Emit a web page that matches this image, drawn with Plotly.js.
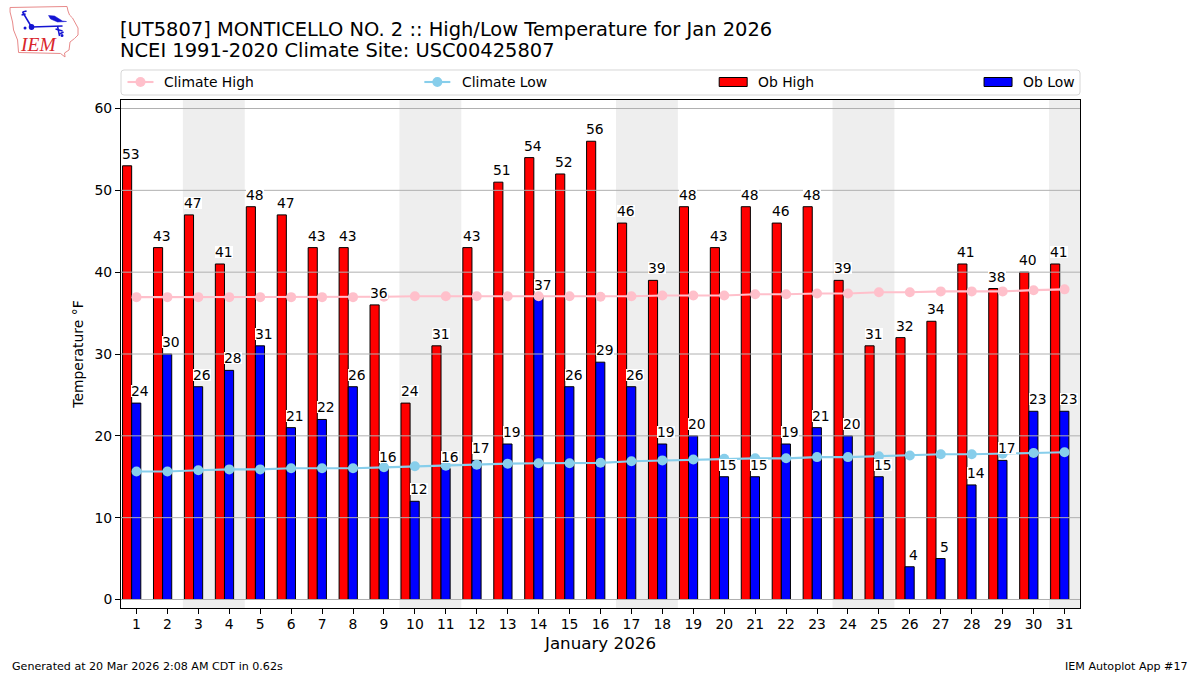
<!DOCTYPE html>
<html><head><meta charset="utf-8">
<script src="https://cdn.plot.ly/plotly-3.0.1.min.js"></script>
<style>html,body{margin:0;padding:0;background:#fff}#c{width:1200px;height:675px}</style>
</head><body><div id="c"></div>
<script>
const days=[1,2,3,4,5,6,7,8,9,10,11,12,13,14,15,16,17,18,19,20,21,22,23,24,25,26,27,28,29,30,31];
const obHigh=[53,43,47,41,48,47,43,43,36,24,31,43,51,54,52,56,46,39,48,43,48,46,48,39,31,32,34,41,38,40,41];
const obLow=[24,30,26,28,31,21,22,26,16,12,16,17,19,37,26,29,26,19,20,15,15,19,21,20,15,4,5,14,17,23,23];
const climateHigh=[36.95,36.95,36.95,36.95,36.95,36.95,36.95,36.95,37,37.05,37.05,37.05,37.05,37.05,37.05,37,37.05,37.15,37.15,37.15,37.3,37.3,37.4,37.4,37.55,37.55,37.65,37.65,37.65,37.8,37.9];
const climateLow=[15.65,15.65,15.8,15.9,15.9,16.03,16.03,16.03,16.15,16.28,16.35,16.47,16.6,16.65,16.65,16.7,16.9,17,17.1,17.2,17.25,17.25,17.4,17.4,17.5,17.6,17.75,17.75,17.8,17.9,18];
const weekendBands=[[2.5,4.5],[9.5,11.5],[16.5,18.5],[23.5,25.5],[30.5,31.5]];
const yTicks=[0,10,20,30,40,50,60];

const F='"DejaVu Sans", sans-serif';
const W=1200,H=675,L=120.5,R=1080,T=100,B=608;
const px=x=>(x-L)/(R-L), py=y=>(B-y)/(B-T);

const barOffset=-0.45, barW=0.295;
const traces=[
 {type:'bar',name:'Ob High',x:days,y:obHigh,offset:barOffset,width:barW,marker:{color:'#ff0000',line:{color:'#000',width:1}},hoverinfo:'y'},
 {type:'bar',name:'Ob Low',x:days,y:obLow,offset:barOffset+barW,width:barW,marker:{color:'#0000ff',line:{color:'#000',width:1}},hoverinfo:'y'},
 {type:'scatter',mode:'lines+markers',name:'Climate High',x:days,y:climateHigh,line:{color:'#ffc0cb',width:2.1},marker:{color:'#ffc0cb',size:10}},
 {type:'scatter',mode:'lines+markers',name:'Climate Low',x:days,y:climateLow,line:{color:'#87ceeb',width:2.1},marker:{color:'#87ceeb',size:10}}
];

const shapes=[];
weekendBands.forEach(b=>shapes.push({type:'rect',layer:'below',xref:'x',yref:'paper',x0:b[0],x1:b[1],y0:0,y1:1,fillcolor:'#eeeeee',line:{width:0}}));
yTicks.forEach(v=>shapes.push({type:'line',layer:'above',xref:'paper',yref:'y',x0:0,x1:1,y0:v,y1:v,line:{color:'#b0b0b0',width:1}}));

function pxShape(o){return Object.assign({xref:'paper',yref:'paper'},o);}
function pathPx(pts,close){return pts.map((p,i)=>(i?'L':'M')+px(p[0]).toFixed(5)+','+py(p[1]).toFixed(5)).join(' ')+(close?' Z':'');}
shapes.push(pxShape({type:'path',path:(()=>{const x0=120.5,x1=1080,y0=70,y1=95,r=3;
  const q=(cx,cy,x,y)=>'Q'+px(cx).toFixed(5)+','+py(cy).toFixed(5)+' '+px(x).toFixed(5)+','+py(y).toFixed(5);
  const l=(x,y)=>'L'+px(x).toFixed(5)+','+py(y).toFixed(5);
  return 'M'+px(x0+r).toFixed(5)+','+py(y0).toFixed(5)+' '+l(x1-r,y0)+' '+q(x1,y0,x1,y0+r)+' '+l(x1,y1-r)+' '+q(x1,y1,x1-r,y1)+' '+l(x0+r,y1)+' '+q(x0,y1,x0,y1-r)+' '+l(x0,y0+r)+' '+q(x0,y0,x0+r,y0)+' Z';})(),line:{color:'#d6d6d6',width:1},fillcolor:'rgba(255,255,255,0)'}));
function legendLine(x,color){
 shapes.push(pxShape({type:'line',x0:px(x),x1:px(x+26),y0:py(82),y1:py(82),line:{color:color,width:2.1}}));
 shapes.push(pxShape({type:'circle',x0:px(x+8),x1:px(x+18),y0:py(87),y1:py(77),fillcolor:color,line:{width:0}}));
}
function legendBar(x,color){
 shapes.push(pxShape({type:'rect',x0:px(x),x1:px(x+28),y0:py(86.5),y1:py(77.5),fillcolor:color,line:{color:'#000',width:1}}));
}
legendLine(127,'#ffc0cb');legendLine(424,'#87ceeb');legendBar(719,'#ff0000');legendBar(984,'#0000ff');

// IEM logo
const red='#e88a8a',blue='#1414d2';
shapes.push(pxShape({type:'path',path:pathPx([[9.5,7.5],[66.5,6.5],[67.5,11],[69,15],[72,18],[77.5,28],[77.5,35],[74,38.5],[69.5,42],[68.5,50],[64,53],[64.5,57],[60,53.5],[18,52.5],[17,40],[13,30],[12,22],[9.5,12]],true),line:{color:red,width:1},fillcolor:'rgba(255,255,255,0)'}));
[[[31,27],[62,26]],[[22,12],[31,27]],[[22,12],[26,11]],[[21,15],[25,14]],[[57,26],[59,36]],[[55,29],[62,31]],[[59,34],[63,32]]].forEach(s=>
 shapes.push(pxShape({type:'path',path:pathPx(s,false),line:{color:blue,width:1.5}})));
shapes.push(pxShape({type:'path',path:pathPx([[48,15.5],[54,16],[62,21],[66,21.5],[57,22],[50,19]],true),fillcolor:blue,line:{color:blue,width:.5}}));
shapes.push(pxShape({type:'circle',x0:px(28.2),x1:px(33.8),y0:py(30),y1:py(24),fillcolor:blue,line:{width:0}}));
shapes.push(pxShape({type:'circle',x0:px(23),x1:px(26),y0:py(29.5),y1:py(26.5),fillcolor:blue,line:{width:0}}));
shapes.push(pxShape({type:'circle',x0:px(60),x1:px(63),y0:py(37),y1:py(34),fillcolor:blue,line:{width:0}}));

const annotations=[];
const lab=(x,y,t)=>annotations.push({xref:'x',yref:'y',x:x,y:y,text:String(t),showarrow:false,xanchor:'center',yanchor:'bottom',yshift:6,height:12,borderpad:0,borderwidth:0,bgcolor:'#ffffff',font:{family:F,size:13.9,color:'#000'}});
days.forEach((d,i)=>{lab(d-0.17,obHigh[i],obHigh[i]);lab(d+0.13,obLow[i],obLow[i]);});
const txt=(x,y,t,size,anchor,extra)=>annotations.push(Object.assign({xref:'paper',yref:'paper',x:px(x),y:py(y),text:t,showarrow:false,xanchor:anchor||'left',yanchor:'middle',font:{family:F,size:size,color:'#000'}},extra||{}));
txt(161.5,81.5,'Climate High',13.9);
txt(459.5,81.5,'Climate Low',13.9);
txt(755.5,81.5,'Ob High',13.9);
txt(1020.5,81.5,'Ob Low',13.9);
txt(117,51,'NCEI 1991-2020 Climate Site: USC00425807',19.45);
txt(9,666,'Generated at 20 Mar 2026 2:08 AM CDT in 0.62s',11.1);
txt(1190,666,'IEM Autoplot App #17',11.1,'right');
txt(37.5,44.5,'<i>IEM</i>',19.5,'center',{font:{family:'"Liberation Serif", serif',size:19.5,color:'#d9262c'}});

const layout={
 width:W,height:H,autosize:false,paper_bgcolor:'#fff',plot_bgcolor:'#fff',
 margin:{l:L,r:W-R,t:T,b:H-B,pad:0},
 barmode:'overlay',showlegend:false,
 title:{text:'[UT5807] MONTICELLO NO. 2 :: High/Low Temperature for Jan 2026',font:{family:F,size:19.45,color:'#000'},xref:'container',yref:'container',x:120/W,xanchor:'left',y:1-29/H,yanchor:'middle'},
 xaxis:{range:[0.5,31.5],tickmode:'array',tickvals:days,ticktext:days.map(String),ticks:'outside',ticklen:5,tickwidth:1,tickcolor:'#000',ticklabelstandoff:-2,showgrid:false,zeroline:false,showline:true,linecolor:'#000',linewidth:1,mirror:true,tickangle:0,tickfont:{family:F,size:13.9,color:'#000'},title:{text:'January 2026',font:{family:F,size:16.7,color:'#000'},standoff:6}},
 yaxis:{range:[-1.04,61.04],tickmode:'array',tickvals:yTicks,ticktext:yTicks.map(String),ticks:'outside',ticklen:5,tickwidth:1,tickcolor:'#000',showgrid:false,zeroline:false,showline:true,linecolor:'#000',linewidth:1,mirror:true,tickfont:{family:F,size:13.9,color:'#000'},title:{text:'Temperature °F',font:{family:F,size:13.9,color:'#000'},standoff:7}},
 shapes:shapes,annotations:annotations
};
Plotly.newPlot('c',traces,layout,{displayModeBar:false,staticPlot:true});
</script></body></html>
